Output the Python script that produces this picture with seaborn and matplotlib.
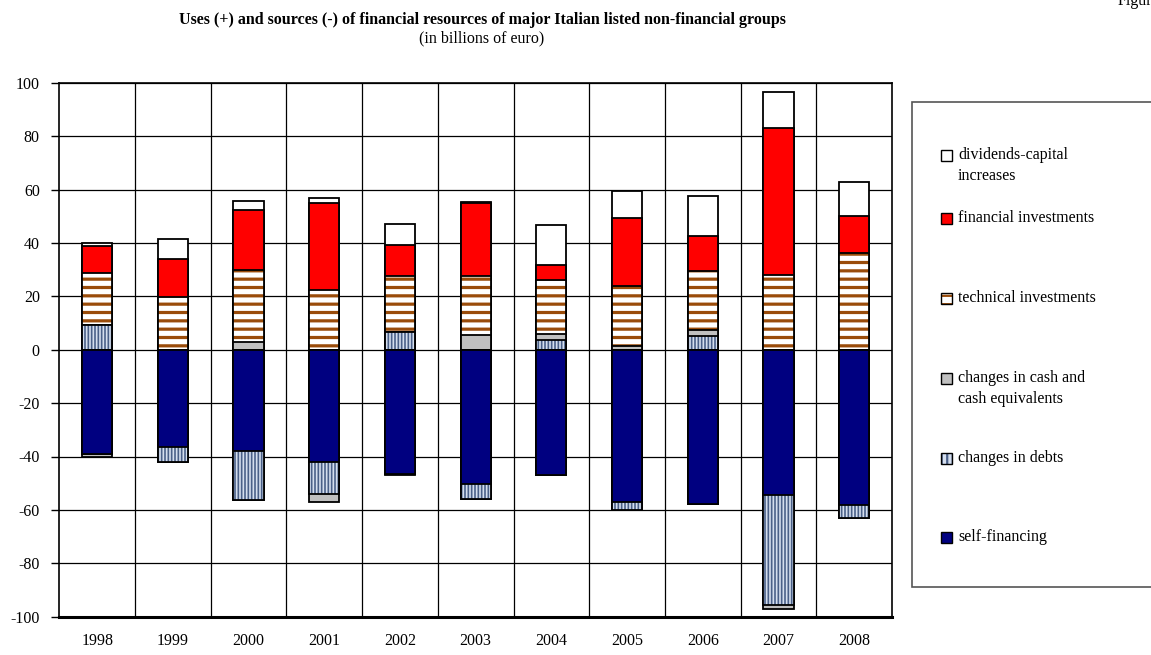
import numpy as np
import matplotlib
matplotlib.use("Agg")
import matplotlib.pyplot as plt
import seaborn as sns
from matplotlib.colors import to_rgba
from matplotlib.patches import Rectangle

# ---- data (billions of euro) ----
years = ["1998", "1999", "2000", "2001", "2002", "2003", "2004", "2005", "2006", "2007", "2008"]

# uses (+)
debts_use = [9.4, 0, 0, 0, 6.6, 0, 3.6, 0, 5.2, 0, 0]
cash_use = [0, 0, 2.7, 0, 0, 5.5, 2.3, 1.5, 2.3, 0, 0]
technical = [19.3, 19.6, 27.1, 22.5, 20.9, 22.0, 20.2, 22.2, 21.8, 28.1, 36.2]
financial = [10.0, 14.4, 22.5, 32.3, 11.7, 27.3, 5.6, 25.6, 13.1, 55.0, 14.0]
dividends = [1.4, 7.5, 3.4, 2.0, 7.7, 0.7, 14.9, 10.3, 15.0, 13.6, 12.7]

# sources (-)
self_financing = [-38.9, -36.6, -37.8, -42.0, -46.4, -50.3, -47.0, -57.2, -57.8, -54.3, -58.2]
debts_src = [0, -5.6, -18.4, -12.0, 0, -5.8, 0, -2.8, 0, -41.3, -5.0]
cash_src = [-1.3, 0, 0, -3.2, -0.7, 0, 0, 0, 0, -1.5, 0]

y_ticks = list(range(-100, 101, 20))

legend_labels = [
    "dividends-capital\nincreases",
    "financial investments",
    "technical investments",
    "changes in cash and\ncash equivalents",
    "changes in debts",
    "self-financing",
]

# ---- styles ----
C_DIV = "#FFFFFF"
C_FIN = "#FF0000"
C_TECH = "#FFFFFF"
C_TECH_HATCH = "#9A4C0A"
C_CASH = "#C0C0C0"
C_DEBT = "#D4DEEE"
C_DEBT_HATCH = "#4A6088"
C_SELF = "#000080"

sns.set_theme(style="white")
plt.rcParams["font.family"] = ["Liberation Serif", "DejaVu Serif"]
plt.rcParams["axes.unicode_minus"] = False
plt.rcParams["hatch.linewidth"] = 1.6

W, H = 1151, 655
fig = plt.figure(figsize=(W / 100, H / 100), dpi=100)
ax = fig.add_axes([59.3 / W, 1 - 616.7 / H, (892 - 59.3) / W, (616.7 - 82.7) / H])


def draw_layer(values, face, hatch=None, hatch_color=None, hatch_lw=None):
    n0 = len(ax.patches)
    sns.barplot(x=years, y=values, order=years, color=face, saturation=1,
                width=0.4, errorbar=None, edgecolor="black", linewidth=1.3,
                zorder=3, ax=ax)
    for p in ax.patches[n0:]:
        if hatch:
            p.set_hatch(hatch)
            p._hatch_color = to_rgba(hatch_color)
            if hatch_lw is not None and hasattr(p, "_hatch_linewidth"):
                p._hatch_linewidth = hatch_lw


# stacked uses: cumulative totals drawn from the top layer down
u1 = np.array(debts_use)
u2 = u1 + np.array(cash_use)
u3 = u2 + np.array(technical)
u4 = u3 + np.array(financial)
u5 = u4 + np.array(dividends)

draw_layer(u5, C_DIV)
draw_layer(u4, C_FIN)
draw_layer(u3, C_TECH, hatch="--", hatch_color=C_TECH_HATCH, hatch_lw=2.3)
draw_layer(u2, C_CASH)
draw_layer(u1, C_DEBT, hatch="|||||", hatch_color=C_DEBT_HATCH, hatch_lw=1.2)

# stacked sources
s1 = np.array(self_financing)
s2 = s1 + np.array(debts_src)
s3 = s2 + np.array(cash_src)

draw_layer(s3, C_CASH)
draw_layer(s2, C_DEBT, hatch="|||||", hatch_color=C_DEBT_HATCH, hatch_lw=1.2)
draw_layer(s1, C_SELF)

# ---- axes ----
ax.set_xlim(-0.5, len(years) - 0.5)
ax.set_ylim(-100, 100)
ax.set_yticks(y_ticks)
ax.set_yticklabels([str(t) for t in y_ticks])
ax.set_xticks(np.arange(0.5, len(years) - 1, 1), minor=True)
ax.set_xlabel("")
ax.set_ylabel("")
ax.grid(False)
ax.yaxis.grid(True, which="major", color="black", linewidth=0.9, zorder=1)
ax.xaxis.grid(True, which="minor", color="black", linewidth=0.9, zorder=1)
ax.set_axisbelow(True)
ax.tick_params(axis="y", which="major", length=6, width=1, color="black",
               direction="out", left=True, pad=8, labelsize=11.5, labelcolor="black")
ax.tick_params(axis="x", which="both", length=0, pad=12, labelsize=11.5, labelcolor="black")
for s in ax.spines.values():
    s.set_visible(True)
    s.set_color("black")
    s.set_linewidth(1.2)
ax.spines["bottom"].set_linewidth(2.2)

# ---- titles ----
fig.text(482 / W, 1 - 19.5 / H,
         "Uses (+) and sources (-) of financial resources of major Italian listed non-financial groups",
         ha="center", va="center", fontsize=11.5, fontweight="bold", color="black")
fig.text(482 / W, 1 - 38 / H, "(in billions of euro)", ha="center", va="center",
         fontsize=11.5, color="black")
fig.text(1118 / W, 1 - 5 / H, "Figure", ha="left", va="baseline", fontsize=11.5, color="black")

# ---- legend panel ----
fig.add_artist(Rectangle((912 / W, 1 - 587 / H), 300 / W, (587 - 102) / H,
                         transform=fig.transFigure, facecolor="white",
                         edgecolor="#555555", linewidth=1.2, clip_on=False))
legend_styles = [
    (C_DIV, None, None),
    (C_FIN, None, None),
    (C_TECH, "--", C_TECH_HATCH),
    (C_CASH, None, None),
    (C_DEBT, "|||", C_DEBT_HATCH),
    (C_SELF, None, None),
]
legend_y = [155, 218, 298, 378, 458, 537]
for label, (face, hatch, hcol), yp in zip(legend_labels, legend_styles, legend_y):
    sq = Rectangle((941 / W, 1 - (yp + 5.5) / H), 11 / W, 11 / H, transform=fig.transFigure,
                   facecolor=face, edgecolor="black", linewidth=1.0, clip_on=False)
    if hatch:
        sq.set_hatch(hatch)
        sq._hatch_color = to_rgba(hcol)
    fig.add_artist(sq)
    first, *rest = label.split("\n")
    fig.text(958 / W, 1 - yp / H, first, ha="left", va="center", fontsize=11.5, color="black")
    for i, line in enumerate(rest, start=1):
        fig.text(958 / W, 1 - (yp + 21 * i) / H, line, ha="left", va="center",
                 fontsize=11.5, color="black")

fig.savefig("out.png", dpi=100)
